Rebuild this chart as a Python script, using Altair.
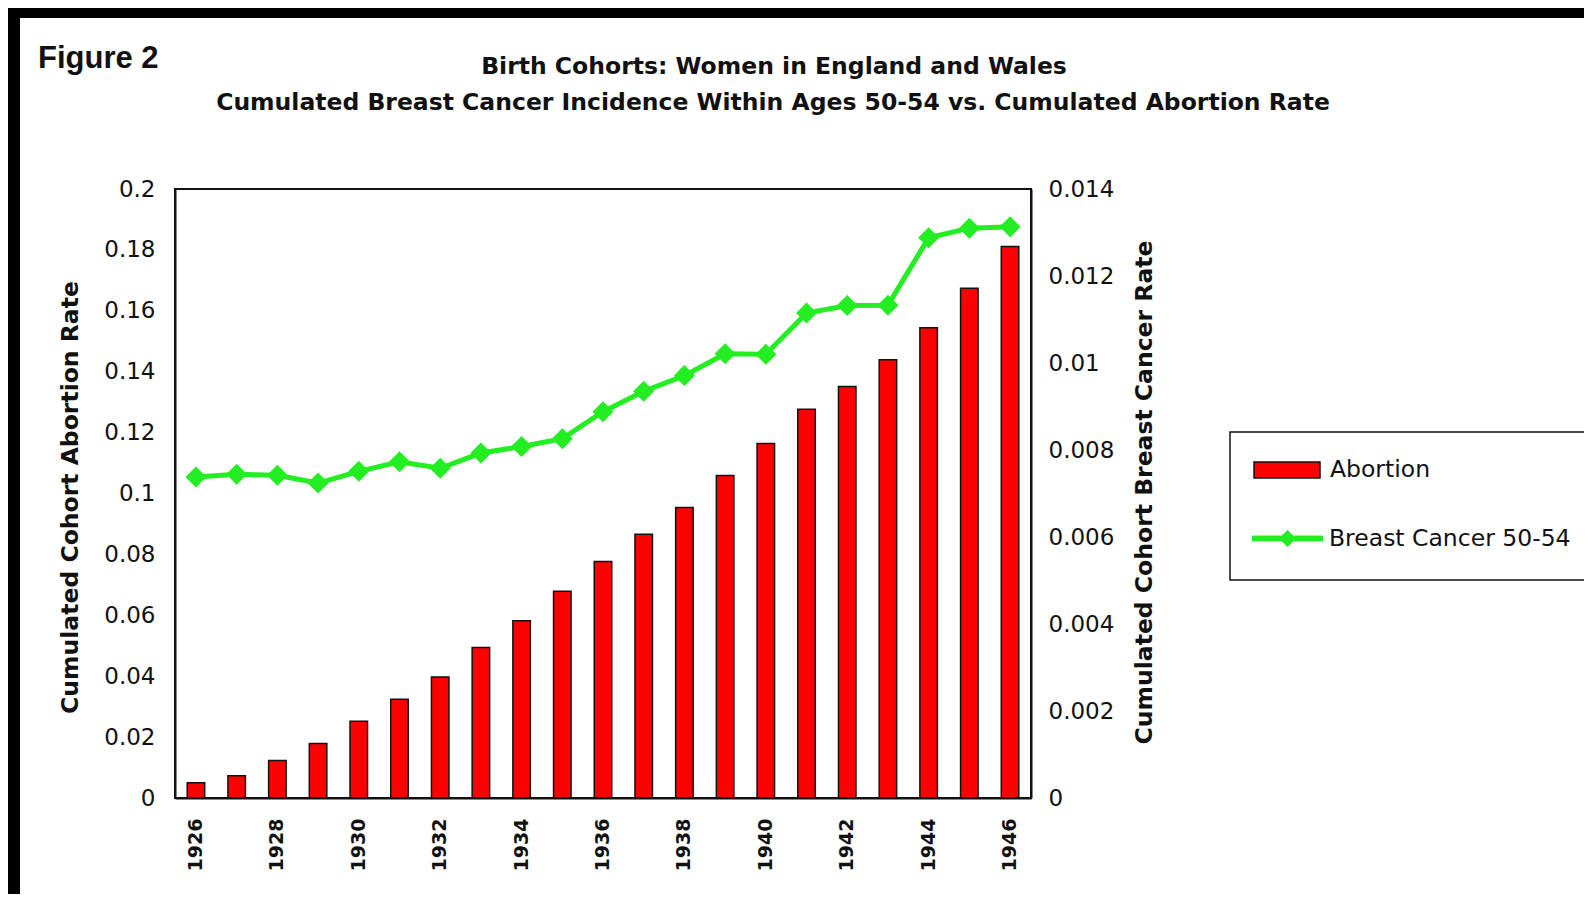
import altair as alt
import pandas as pd

# ---------------- data ----------------
years = [1926, 1927, 1928, 1929, 1930, 1931, 1932, 1933, 1934, 1935, 1936,
         1937, 1938, 1939, 1940, 1941, 1942, 1943, 1944, 1945, 1946]
abortion = [0.0050, 0.0073, 0.0123, 0.0179, 0.0252, 0.0324, 0.0397, 0.0494,
            0.0582, 0.0679, 0.0777, 0.0866, 0.0954, 0.1059, 0.1164, 0.1277,
            0.1351, 0.1439, 0.1544, 0.1674, 0.1811]
breast_cancer = [0.00738, 0.00744, 0.00742, 0.00724, 0.00751, 0.00773, 0.00758,
                 0.00793, 0.00808, 0.00826, 0.00888, 0.00935, 0.00971, 0.01021,
                 0.01020, 0.01115, 0.01132, 0.01133, 0.01288, 0.01310, 0.01313]
series_names = ["Abortion", "Breast Cancer 50-54"]
left_ticks = [0, 0.02, 0.04, 0.06, 0.08, 0.1, 0.12, 0.14, 0.16, 0.18, 0.2]
right_ticks = [0, 0.002, 0.004, 0.006, 0.008, 0.01, 0.012, 0.014]
year_labels = [1926, 1928, 1930, 1932, 1934, 1936, 1938, 1940, 1942, 1944, 1946]
figure_label = ["Figure 2"]
title_lines = ["Birth Cohorts: Women in England and Wales",
               "Cumulated Breast Cancer Incidence Within Ages 50-54 vs. Cumulated Abortion Rate"]
left_title = "Cumulated Cohort Abortion Rate"
right_title = "Cumulated Cohort Breast Cancer Rate"

bars_df = pd.DataFrame({"year": years, "value": abortion, "series": series_names[0]})
line_df = pd.DataFrame({"year": years, "value": breast_cancer, "series": series_names[1]})

FONT = "DejaVu Sans"
INK = "#111111"
RED = "#ff0000"
GREEN = "#22ee22"

W, H = 856, 609

x_axis = alt.Axis(values=year_labels, labelAngle=270, labelFont=FONT, labelFontSize=19,
                  labelFontWeight="bold", labelColor=INK, ticks=False, labelPadding=20,
                  title=None, domainColor=INK, domainWidth=2, grid=False, zindex=1)
x_scale = alt.Scale(paddingInner=0.57, paddingOuter=0.3)

# decorative dark frame bands (top and left edges of the picture)
frame_top = alt.Chart(pd.DataFrame({"k": [0]})).mark_rect(color="#000000").encode(
    x=alt.value(-170), x2=alt.value(1420), y=alt.value(-185), y2=alt.value(-171))
frame_left = alt.Chart(pd.DataFrame({"k": [0]})).mark_rect(color="#000000").encode(
    x=alt.value(-170), x2=alt.value(-155), y=alt.value(-185), y2=alt.value(720))

# legend box
legend_box = alt.Chart(pd.DataFrame({"k": [0]})).mark_rect(
    fill="white", stroke=INK, strokeWidth=1.5).encode(
    x=alt.value(1055), x2=alt.value(1419), y=alt.value(243), y2=alt.value(391))

bars = alt.Chart(bars_df).mark_bar(stroke=INK, strokeWidth=1.5).encode(
    x=alt.X("year:O", axis=x_axis, scale=x_scale, title=None),
    y=alt.Y("value:Q", scale=alt.Scale(domain=[0, 0.2], nice=False),
            axis=alt.Axis(title=left_title, values=left_ticks, format=".2~f", ticks=False,
                          labelPadding=20, labelFont=FONT, labelFontSize=23, labelColor=INK,
                          titleFont=FONT, titleFontSize=23.5, titleFontWeight="bold",
                          titleColor=INK, titleX=-105, titleY=308, titleAngle=270,
                          titleBaseline="middle", titleAlign="center",
                          domainColor=INK, domainWidth=2, grid=False, zindex=1)),
    color=alt.Color("series:N", scale=alt.Scale(domain=[series_names[0]], range=[RED]),
                    legend=alt.Legend(orient="none", legendX=1078, legendY=247, title=None,
                                      padding=0,
                                      symbolType="M-1,-0.242L1,-0.242L1,0.242L-1,0.242Z",
                                      symbolSize=4356, symbolStrokeColor=INK,
                                      symbolStrokeWidth=1.5, labelFont=FONT,
                                      labelFontSize=23.5, labelColor=INK, labelOffset=9,
                                      labelLimit=400)),
)

right_y = alt.Y("value:Q", scale=alt.Scale(domain=[0, 0.014], nice=False),
                axis=alt.Axis(orient="right", title=right_title, values=right_ticks,
                              format=".3~f", ticks=False, labelPadding=17, labelFont=FONT,
                              labelFontSize=23, labelColor=INK, titleFont=FONT,
                              titleFontSize=23.5, titleFontWeight="bold", titleColor=INK,
                              titleX=113, titleY=303, titleAngle=270,
                              titleBaseline="middle", titleAlign="center",
                              domainColor=INK, domainWidth=2, grid=False, zindex=1))

line = alt.Chart(line_df).mark_line(color=GREEN, strokeWidth=5).encode(
    x=alt.X("year:O", axis=x_axis, scale=x_scale, title=None, bandPosition=0.5),
    y=right_y,
)
points = alt.Chart(line_df).mark_point(shape="diamond", filled=True, size=441, opacity=1).encode(
    x=alt.X("year:O", axis=x_axis, scale=x_scale, title=None, bandPosition=0.5),
    y=right_y,
    color=alt.Color("series:N", scale=alt.Scale(domain=[series_names[1]], range=[GREEN]),
                    legend=alt.Legend(orient="none", legendX=1077, legendY=314, title=None,
                                      padding=0,
                                      symbolType="M-1,-0.07L1,-0.07L1,0.07L-1,0.07Z M0,-0.23L0.23,0L0,0.23L-0.23,0Z",
                                      symbolSize=4900, symbolFillColor=GREEN,
                                      symbolStrokeColor=GREEN, symbolStrokeWidth=1,
                                      labelFont=FONT, labelFontSize=23.5, labelColor=INK,
                                      labelOffset=6, labelLimit=400)),
)
green_layer = alt.layer(line, points)

fig_text = alt.Chart(pd.DataFrame({"t": figure_label})).mark_text(
    align="left", baseline="alphabetic", font="Liberation Sans", fontSize=31,
    fontWeight="bold", color=INK).encode(text="t:N", x=alt.value(-137), y=alt.value(-121))
title1 = alt.Chart(pd.DataFrame({"t": title_lines[:1]})).mark_text(
    align="center", baseline="alphabetic", font=FONT, fontSize=23.5,
    fontWeight="bold", color=INK).encode(text="t:N", x=alt.value(599), y=alt.value(-115.5))
title2 = alt.Chart(pd.DataFrame({"t": title_lines[1:]})).mark_text(
    align="center", baseline="alphabetic", font=FONT, fontSize=23.5,
    fontWeight="bold", color=INK).encode(text="t:N", x=alt.value(598), y=alt.value(-79))

chart = alt.layer(frame_top, frame_left, legend_box, bars, green_layer,
                  fig_text, title1, title2).resolve_scale(
    y="independent", color="independent"
).properties(
    width=W, height=H,
    autosize=alt.AutoSizeParams(type="none"),
    padding={"left": 167, "top": 181, "right": 553, "bottom": 96},
    background="#ffffff",
).configure_view(stroke=INK, strokeWidth=2)

chart.save("out.html", embed_options={"renderer": "svg", "actions": False})
